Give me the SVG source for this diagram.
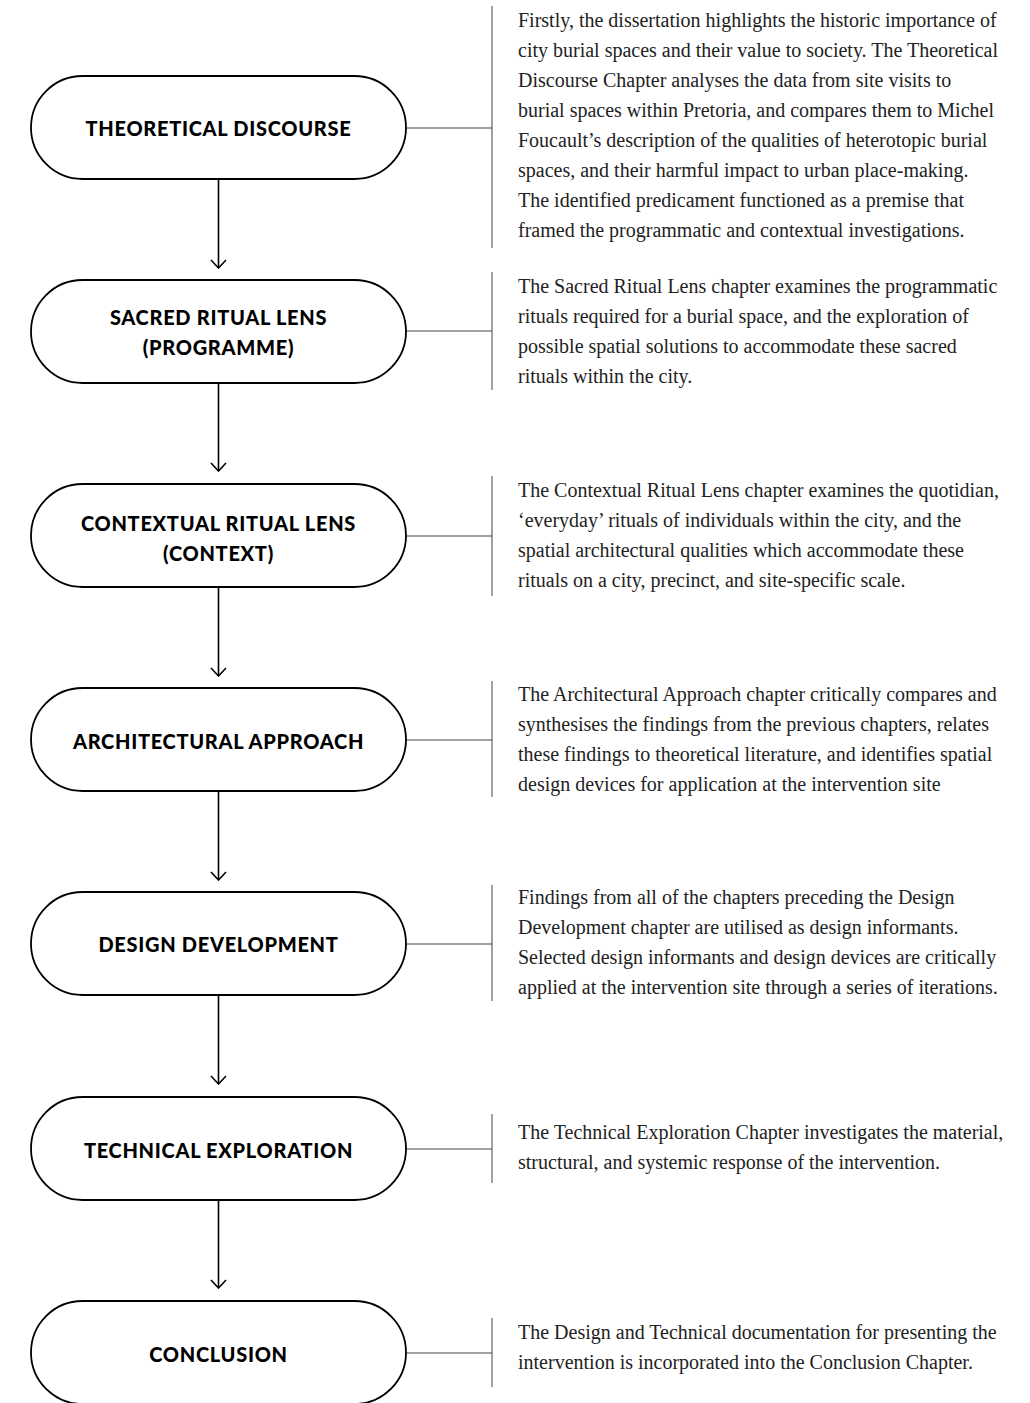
<svg xmlns="http://www.w3.org/2000/svg" width="1030" height="1403" viewBox="0 0 1030 1403">
<defs>
<style>
.node rect{fill:#fff;stroke:#000;stroke-width:1.8}
.lbl{font-family:Lato,"Noto Sans","DejaVu Sans",sans-serif;font-weight:900;font-size:20px;letter-spacing:0.7px;fill:#000;text-anchor:middle;dominant-baseline:central}
.desc{font-family:"Liberation Serif","Times New Roman",serif;font-size:20px;fill:#222}
.arr{stroke:#000;stroke-width:1.6;fill:none}
.lnk{stroke:#444;stroke-width:1;fill:none}
</style>
<marker id="ah" viewBox="0 0 12 20" refX="11" refY="10" markerWidth="12" markerHeight="20" markerUnits="userSpaceOnUse" orient="auto">
<path d="M3,2.5 L11,10 L3,17.5" fill="none" stroke="#000" stroke-width="1.6"/>
</marker>
</defs>
<rect width="1030" height="1403" fill="#fff"/>
<g id="connectors">
<path class="arr" d="M218.5,179 V268" marker-end="url(#ah)"/>
<path class="arr" d="M218.5,383 V471" marker-end="url(#ah)"/>
<path class="arr" d="M218.5,587 V676" marker-end="url(#ah)"/>
<path class="arr" d="M218.5,791 V880" marker-end="url(#ah)"/>
<path class="arr" d="M218.5,995 V1084" marker-end="url(#ah)"/>
<path class="arr" d="M218.5,1200 V1288" marker-end="url(#ah)"/>
<path class="lnk" d="M406,128 H492 M492,6 V248"/>
<path class="lnk" d="M406,331 H492 M492,272 V390"/>
<path class="lnk" d="M406,536 H492 M492,476 V596"/>
<path class="lnk" d="M406,740 H492 M492,681 V797"/>
<path class="lnk" d="M406,944 H492 M492,885 V1001"/>
<path class="lnk" d="M406,1149 H492 M492,1114 V1183"/>
<path class="lnk" d="M406,1353 H492 M492,1318 V1387"/>
</g>
<g id="n1" class="node"><rect x="31" y="76" width="375" height="103" rx="51.5"/><text class="lbl" x="218.5" y="128">THEORETICAL DISCOURSE</text></g>
<g id="n2" class="node"><rect x="31" y="280" width="375" height="103" rx="51.5"/><text class="lbl" x="218.5" y="317">SACRED RITUAL LENS</text><text class="lbl" x="218.5" y="347">(PROGRAMME)</text></g>
<g id="n3" class="node"><rect x="31" y="484" width="375" height="103" rx="51.5"/><text class="lbl" x="218.5" y="523">CONTEXTUAL RITUAL LENS</text><text class="lbl" x="218.5" y="553">(CONTEXT)</text></g>
<g id="n4" class="node"><rect x="31" y="688" width="375" height="103" rx="51.5"/><text class="lbl" x="218.5" y="741">ARCHITECTURAL APPROACH</text></g>
<g id="n5" class="node"><rect x="31" y="892" width="375" height="103" rx="51.5"/><text class="lbl" x="218.5" y="944">DESIGN DEVELOPMENT</text></g>
<g id="n6" class="node"><rect x="31" y="1097" width="375" height="103" rx="51.5"/><text class="lbl" x="218.5" y="1150">TECHNICAL EXPLORATION</text></g>
<g id="n7" class="node"><rect x="31" y="1301" width="375" height="103" rx="51.5"/><text class="lbl" x="218.5" y="1354">CONCLUSION</text></g>
<g id="d1">
<text class="desc" x="518" y="27">Firstly, the dissertation highlights the historic importance of</text>
<text class="desc" x="518" y="57">city burial spaces and their value to society. The Theoretical</text>
<text class="desc" x="518" y="87">Discourse Chapter analyses the data from site visits to</text>
<text class="desc" x="518" y="117">burial spaces within Pretoria, and compares them to Michel</text>
<text class="desc" x="518" y="147">Foucault’s description of the qualities of heterotopic burial</text>
<text class="desc" x="518" y="177">spaces, and their harmful impact to urban place-making.</text>
<text class="desc" x="518" y="207">The identified predicament functioned as a premise that</text>
<text class="desc" x="518" y="237">framed the programmatic and contextual investigations.</text>
</g>
<g id="d2">
<text class="desc" x="518" y="293">The Sacred Ritual Lens chapter examines the programmatic</text>
<text class="desc" x="518" y="323">rituals required for a burial space, and the exploration of</text>
<text class="desc" x="518" y="353">possible spatial solutions to accommodate these sacred</text>
<text class="desc" x="518" y="383">rituals within the city.</text>
</g>
<g id="d3">
<text class="desc" x="518" y="497">The Contextual Ritual Lens chapter examines the quotidian,</text>
<text class="desc" x="518" y="527">‘everyday’ rituals of individuals within the city, and the</text>
<text class="desc" x="518" y="557">spatial architectural qualities which accommodate these</text>
<text class="desc" x="518" y="587">rituals on a city, precinct, and site-specific scale.</text>
</g>
<g id="d4">
<text class="desc" x="518" y="701">The Architectural Approach chapter critically compares and</text>
<text class="desc" x="518" y="731">synthesises the findings from the previous chapters, relates</text>
<text class="desc" x="518" y="761">these findings to theoretical literature, and identifies spatial</text>
<text class="desc" x="518" y="791">design devices for application at the intervention site</text>
</g>
<g id="d5">
<text class="desc" x="518" y="904">Findings from all of the chapters preceding the Design</text>
<text class="desc" x="518" y="934">Development chapter are utilised as design informants.</text>
<text class="desc" x="518" y="964">Selected design informants and design devices are critically</text>
<text class="desc" x="518" y="994">applied at the intervention site through a series of iterations.</text>
</g>
<g id="d6">
<text class="desc" x="518" y="1139">The Technical Exploration Chapter investigates the material,</text>
<text class="desc" x="518" y="1169">structural, and systemic response of the intervention.</text>
</g>
<g id="d7">
<text class="desc" x="518" y="1339">The Design and Technical documentation for presenting the</text>
<text class="desc" x="518" y="1369">intervention is incorporated into the Conclusion Chapter.</text>
</g>
</svg>
